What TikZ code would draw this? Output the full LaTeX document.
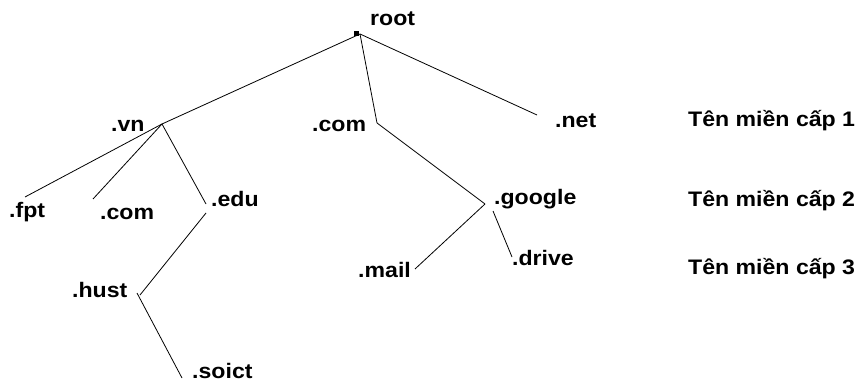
\documentclass[tikz,border=0pt]{standalone}
\usepackage{fontspec}
\setmainfont[FakeStretch=1.1]{Liberation Sans}
\tikzset{lbl/.style={font=\bfseries\fontsize{21}{25}\selectfont,anchor=base west,inner sep=0pt},
  edge/.style={line width=0.8pt}}

\begin{document}
\begin{tikzpicture}[x=1pt,y=-1pt]
\useasboundingbox (0,0) rectangle (861,387);
% labels
\node[lbl] (root) at (370,26) {root};
\node[lbl] (vn) at (111,132) {.vn};
\node[lbl] (comm) at (312,132) {.com};
\node[lbl] (net) at (555,128) {.net};
\node[lbl] (fpt) at (9,218) {.fpt};
\node[lbl] (coml) at (100,220) {.com};
\node[lbl] (edu) at (211,207) {.edu};
\node[lbl] (google) at (494,205) {.google};
\node[lbl] (mail) at (358,277) {.mail};
\node[lbl] (drive) at (512,265) {.drive};
\node[lbl] (hust) at (72,297) {.hust};
\node[lbl] (soict) at (192,378) {.soict};
\node[lbl] (cap1) at (688,127) {Tên miền cấp 1};
\node[lbl] (cap2) at (688,207) {Tên miền cấp 2};
\node[lbl] (cap3) at (688,274) {Tên miền cấp 3};
% joints
\node[fill,inner sep=0pt,minimum size=5pt] (dot) at (356,34) {};
\coordinate (r0) at (360,34);
\coordinate (j-vn) at (162,124);
\coordinate (j-com) at (377,123);
\coordinate (j-net) at (537,115);
\coordinate (j-fpt) at (25,197);
\coordinate (j-coml) at (93,199);
\coordinate (j-edu) at (206,204);
\coordinate (j-edu2) at (206,213);
\coordinate (j-google) at (485,204);
\coordinate (j-google2) at (493,211);
\coordinate (j-mail) at (415,269);
\coordinate (j-drive) at (512,257);
\coordinate (j-hust) at (140,295);
\coordinate (j-hust2) at (137,293);
\coordinate (j-soict) at (182,378);
% tree
\draw[edge] (r0) -- (j-vn);
\draw[edge] (r0) -- (j-com);
\draw[edge] (r0) -- (j-net);
\draw[edge] (j-vn) -- (j-fpt);
\draw[edge] (j-vn) -- (j-coml);
\draw[edge] (j-vn) -- (j-edu);
\draw[edge] (j-com) -- (j-google);
\draw[edge] (j-google) -- (j-mail);
\draw[edge] (j-google2) -- (j-drive);
\draw[edge] (j-edu2) -- (j-hust);
\draw[edge] (j-hust2) -- (j-soict);
\end{tikzpicture}
\end{document}
